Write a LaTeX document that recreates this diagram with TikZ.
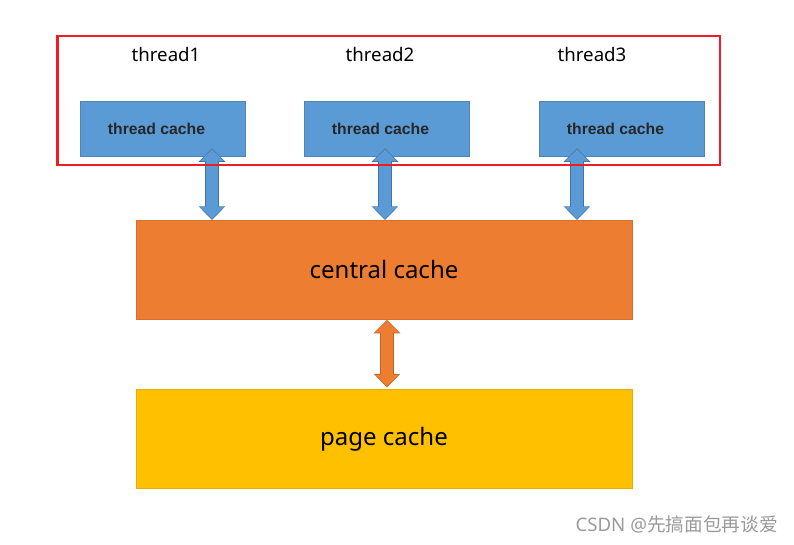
\documentclass[tikz,border=0pt]{standalone}
\usepackage{fontspec}
\setmainfont{Noto Sans}
\newfontfamily\boxfont{Liberation Sans}
\newfontfamily\cjkfont{Noto Sans CJK SC}
\usetikzlibrary{arrows.meta}
\definecolor{tcblue}{HTML}{5B9BD5}
\definecolor{ccorange}{HTML}{ED7D31}
\definecolor{pcyellow}{HTML}{FFC000}
\definecolor{framered}{HTML}{EE1C25}
\definecolor{markgray}{HTML}{9A9A9A}

\begin{document}
\begin{tikzpicture}[x=0.75pt, y=-0.75pt,
    threadlabel/.style={font=\fontsize{14}{16}\selectfont},
    tcbox/.style={fill=tcblue, draw=tcblue!85!black, line width=0.4pt, minimum width=123.75pt, minimum height=41.25pt, inner sep=0pt, font=\boxfont\bfseries\fontsize{11.8}{13}\selectfont, text=black!85},
    bigbox/.style={minimum width=372pt, minimum height=74pt, inner sep=0pt, font=\fontsize{18}{21}\selectfont},
    arrowedge/.style={line width=10.2pt, draw=#1, {Triangle[width=19.5pt,length=10.2pt]}-{Triangle[width=19.5pt,length=10.2pt]}},
    blockarrow/.style={line width=8.6pt, draw=#1, {Triangle[width=17.4pt,length=8.8pt]}-{Triangle[width=17.4pt,length=8.8pt]}}]
  \useasboundingbox (0,0) rectangle (794,545);

  \node (t1) [threadlabel] at (166,55) {thread1};
  \node (t2) [threadlabel] at (380,55) {thread2};
  \node (t3) [threadlabel] at (592,55) {thread3};

  \node (tc1) [tcbox] at (162.5,128.5) {\hspace*{-9pt}thread cache};
  \node (tc2) [tcbox] at (386.5,128.5) {\hspace*{-9pt}thread cache};
  \node (tc3) [tcbox] at (621.5,128.5) {\hspace*{-9pt}thread cache};

  \node (central) [bigbox, fill=ccorange, draw=ccorange!90!black, line width=0.4pt] at (384,269.5) {central cache};
  \node (page) [bigbox, fill=pcyellow, draw=pcyellow!90!black, line width=0.4pt] at (384,439) {page cache};

  \coordinate (a1) at (212,0);
  \coordinate (a2) at (385,0);
  \coordinate (a3) at (577,0);
  \coordinate (a4) at (387,0);

  \foreach \a/\t in {a1/tc1, a2/tc2, a3/tc3}
  {
    \draw[arrowedge=tcblue!75!black] ([yshift=6pt]\a |- \t.south) -- (\a |- central.north);
    \draw[blockarrow=tcblue] ([yshift=5.2pt]\a |- \t.south) -- ([yshift=0.8pt]\a |- central.north);
  }
  \draw[arrowedge=ccorange!80!black] ([yshift=-0.5pt]a4 |- central.south) -- ([yshift=1.5pt]a4 |- page.north);
  \draw[blockarrow=ccorange] ([yshift=-1.3pt]a4 |- central.south) -- ([yshift=2.3pt]a4 |- page.north);

  \node (frame) [draw=framered, line width=2pt, minimum width=497pt, minimum height=96.75pt, inner sep=0pt] at (388.5,100.5) {};

  \node (mark) [anchor=east, text=markgray, font=\fontsize{14}{16}\selectfont, inner sep=0pt] at (778,524) {CSDN @{\cjkfont 先搞面包再谈爱}};
\end{tikzpicture}
\end{document}
